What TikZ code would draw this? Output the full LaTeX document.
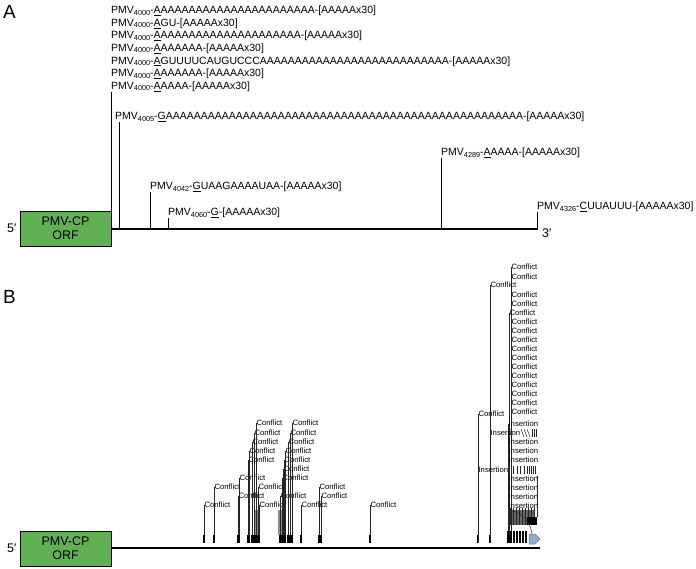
\documentclass[tikz,border=0pt]{standalone}
\usepackage{fontspec}
\setmainfont{Liberation Sans}
\usetikzlibrary{positioning}

\definecolor{orfgreen}{RGB}{98,176,84}
\definecolor{tipblue}{RGB}{143,171,205}
\newcommand\pmv[1]{PMV{\fontsize{7.3}{8}\selectfont\raisebox{-1.3pt}{#1}}}
\newcommand\nt[1]{\underline{#1}}
\newcommand\polyA[1]{\foreach \k in {1,...,#1}{A}}

\begin{document}
\begin{tikzpicture}[x=1pt, y=-1pt, font=\fontsize{10.5}{12}\selectfont,
	block/.style = { rectangle, draw=black, thick, fill=orfgreen,
	minimum width=91pt, minimum height=35pt, inner sep=0pt, align=center,
	font=\fontsize{12.5}{14}\selectfont},
	panel/.style = { anchor=west, inner sep=0pt, font=\fontsize{19}{20}\selectfont},
	primelbl/.style = { inner sep=0pt, font=\fontsize{12.5}{14}\selectfont},
	seq/.style = { inner sep=0pt },
	stem/.style = { line width=0.8pt },
	feat/.style = { anchor=west, inner sep=0.4pt, font=\fontsize{7.7}{8}\selectfont},
	featln/.style = { black!85, line width=0.5pt },
	tick/.style = { line width=1.3pt } ]

  \useasboundingbox (0,0) rectangle (696,568);

  % panel A
  \node [name=panelA, panel] at (3,12) { A };
  \node [name=orfA, block] at (65.5,228.5) { PMV-CP\\ORF };
  \node [primelbl, left=3pt of orfA] { 5′ };
  \coordinate (endA) at (538,229);
  \draw [line width=1.2pt] (orfA.east |- endA) -- (endA);
  \node [primelbl, right=4pt of endA, yshift=-4pt] { 3′ };

  \node [name=s1, seq, anchor=north west] at (111,6)
	{ \pmv{4000}-\nt{A}\polyA{22}-[AAAAAx30] };
  \node [name=s2, seq, below right=2.4pt and 0pt of s1.south west]
	{ \pmv{4000}-\nt{A}GU-[AAAAAx30] };
  \node [name=s3, seq, below right=2.4pt and 0pt of s2.south west]
	{ \pmv{4000}-\nt{A}\polyA{20}-[AAAAAx30] };
  \node [name=s4, seq, below right=2.4pt and 0pt of s3.south west]
	{ \pmv{4000}-\nt{A}AAAAAA-[AAAAAx30] };
  \node [name=s5, seq, below right=2.4pt and 0pt of s4.south west]
	{ \pmv{4000}-\nt{A}GUUUUCAUGUCCC\polyA{27}-[AAAAAx30] };
  \node [name=s6, seq, below right=2.4pt and 0pt of s5.south west]
	{ \pmv{4000}-\nt{A}AAAAAA-[AAAAAx30] };
  \node [name=s7, seq, below right=2.4pt and 0pt of s6.south west]
	{ \pmv{4000}-\nt{A}AAAA-[AAAAAx30] };
  \draw [stem] (s7.south west) -- (s7.south west |- endA);

  \node [name=s4005, seq, anchor=base west] at (115,119.8)
	{ \pmv{4005}-\nt{G}\polyA{51}-[AAAAAx30] };
  \draw [stem] ([xshift=4pt]s4005.south west) -- ([xshift=4pt]s4005.south west |- endA);
  \node [name=s4289, seq, anchor=base west] at (441,155.8)
	{ \pmv{4289}-\nt{A}AAAA-[AAAAAx30] };
  \draw [stem] (s4289.south west) -- (s4289.south west |- endA);
  \node [name=s4042, seq, anchor=base west] at (150,189.8)
	{ \pmv{4042}-\nt{G}UAAGAAAAUAA-[AAAAAx30] };
  \draw [stem] (s4042.south west) -- (s4042.south west |- endA);
  \node [name=s4060, seq, anchor=base west] at (168,215.8)
	{ \pmv{4060}-\nt{G}-[AAAAAx30] };
  \draw [stem] (s4060.south west) -- (s4060.south west |- endA);
  \node [name=s4326, seq, anchor=base west] at (537,209.8)
	{ \pmv{4326}-\nt{C}UUAUUU-[AAAAAx30] };
  \draw [stem] (s4326.south west) -- (s4326.south west |- endA);

  % panel B
  \node [name=panelB, panel] at (3,297) { B };
  \node [name=orfB, block] at (65.5,548.5) { PMV-CP\\ORF };
  \node [primelbl, left=3pt of orfB] { 5′ };
  \coordinate (endB) at (540,548);
  \coordinate (tb) at (0,543);
  \coordinate (tt) at (0,535);
  \draw [line width=1.2pt] (orfB.east |- endB) -- (endB);

  % dense read stacks
  \fill [black!45] (255,510) rectangle (260,535);
  \fill [black!45] (278,510) rectangle (284,535);
  \fill [black!60] (508,510) rectangle (535,525);

  \foreach \fx/\fy [count=\i] in {203/505, 213/487, 237/496, 238/478,
	247/460, 248/451, 251/442, 253/433, 255/423, 257/487, 258/505,
	279/496, 281/478, 282/469, 283/460, 284/451, 287/442, 289/433,
	291/423, 300/505, 318/487, 320/496, 369/505,
	510/267, 510/277, 489/285, 510/295, 510/304, 508/313,
	510/322, 510/331, 510/340, 510/349, 510/358, 510/367, 510/376,
	510/385, 510/394, 510/403, 510/412, 477/414} {
    \node [name=c\i, feat] at (\fx+1,\fy) { Conflict };
    \draw [featln] (c\i.west) -- (c\i.west |- tb);
    \draw [tick] (c\i.west |- tt) -- (c\i.west |- tb);
  }
  \foreach \fx/\fy [count=\i] in {507/424, 489/433, 507/442, 507/451,
	507/460, 477/470, 507/479, 507/488, 507/497, 507/506} {
    \node [name=n\i, feat] at (\fx+1,\fy) { Insertion };
    \draw [featln] (n\i.west) -- (n\i.west |- tb);
  }

  % insertion marks
  \foreach \hx in {521,524,527}
    \draw [featln] (\hx,429) -- (\hx+3,437);
  \foreach \hx in {532,534,536}
    \draw [featln] (\hx,429) -- (\hx,437);
  \foreach \hx in {511,513,517,520,524,527,529,531,533,535}
    \draw [featln] (\hx,466) -- (\hx,474);
  \foreach \hx in {510,513,516,519,522,525,528,531,534}
    \draw [featln] (\hx,508) -- (\hx,525);
  \fill [black] (527,517) rectangle (537,525);
  \draw [featln] (537,476) -- (537,517);
  \draw [featln] (511,510) .. controls (525,515) and (530,522) .. (532,534);
  \foreach \hx in {508,511,514,517,520,523,526}
    \draw [tick] (\hx,531) -- (\hx,543);

  % 3' tip of the read track
  \draw [fill=tipblue, draw=tipblue!70!black, line width=0.5pt]
	(529,534) -- (535,534) -- (540,539) -- (535,544) -- (529,544) -- cycle;
\end{tikzpicture}
\end{document}
